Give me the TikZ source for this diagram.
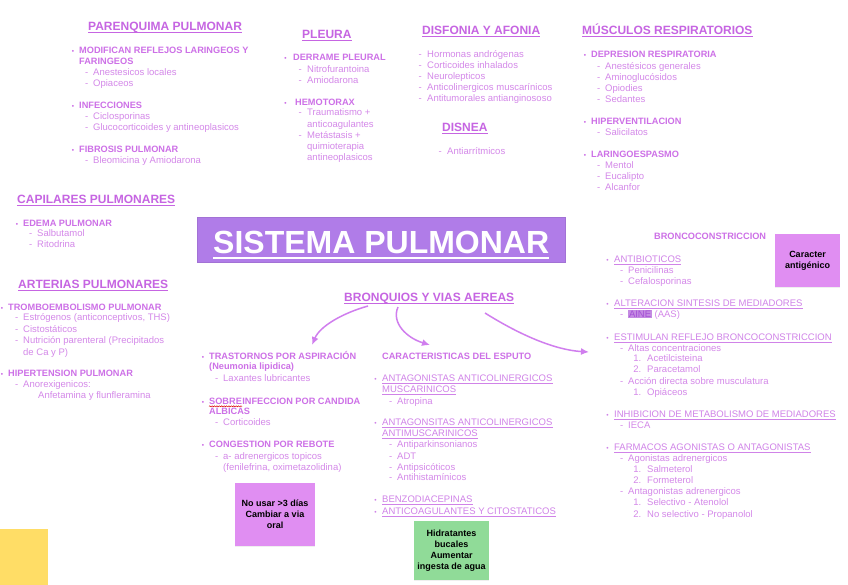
\documentclass[tikz,border=0pt]{standalone}
\usepackage{fontspec}
\usepackage{graphicx}
\setmainfont{Liberation Sans}
\usetikzlibrary{arrows.meta,shadows,decorations.pathmorphing}
\definecolor{hcol}{HTML}{C665E2}
\definecolor{bcol}{HTML}{CD70E7}
\definecolor{tcol}{HTML}{D488E9}
\definecolor{ucol}{HTML}{D083E8}
\definecolor{acol}{HTML}{D07EEE}
\definecolor{titlefill}{HTML}{B07CE8}
\definecolor{pinknote}{HTML}{E08EF2}
\definecolor{greennote}{HTML}{90DB98}
\definecolor{yellownote}{HTML}{FFDD66}
\definecolor{hlfill}{HTML}{C48BE2}
\definecolor{hltext}{HTML}{A552D6}
\newcommand\bu[2][5pt]{\llap{\scalebox{0.7}{\textbullet}\hspace{#1}}#2}
\newcommand\da[2][5pt]{\llap{-\hspace{#1}}#2}
\newcommand\nm[2]{\llap{#1\hspace{6pt}}#2}
\tikzset{
  bfont/.style={font=\fontsize{9.2}{11}\selectfont\bfseries, text=bcol},
  rfont/.style={font=\fontsize{9.5}{11}\selectfont, text=tcol},
  bt/.style={bfont, anchor=base west, inner sep=0pt, yshift=-3.3pt},
  rt/.style={rfont, anchor=base west, inner sep=0pt, yshift=-3.4pt},
  ut/.style={rfont, text=ucol, anchor=base west, inner sep=0pt, yshift=-3.4pt,
    append after command={([yshift=-1.7pt]\tikzlastnode.base west) edge[draw=ucol, line width=0.55pt] ([yshift=-1.7pt]\tikzlastnode.base east)}},
  hd/.style={font=\fontsize{12}{14}\selectfont\bfseries, text=hcol, anchor=base west, inner sep=0pt, yshift=-4.5pt,
    append after command={([yshift=-1.9pt]\tikzlastnode.base west) edge[draw=hcol, line width=0.8pt] ([yshift=-1.9pt]\tikzlastnode.base east)}},
  note/.style={inner sep=0pt, align=center, font=\fontsize{9}{11}\selectfont\bfseries, text=black,
    drop shadow={shadow xshift=0pt, shadow yshift=-1.2pt, opacity=0.12}},
  arr/.style={draw=acol, line width=1.5pt, -{Latex[length=8pt,width=7pt]}},
}
\begin{document}
\begin{tikzpicture}[x=1pt,y=-1pt]
\fill[white] (0,0) rectangle (848,584);
\useasboundingbox (0,0) rectangle (848,584);

% PARENQUIMA
\node[hd] (parh) at (88,26) {PARENQUIMA PULMONAR};
\node[bt] (par1) at (79,50) {\bu{MODIFICAN REFLEJOS LARINGEOS Y}};
\node[bt] (par1b) at (79,61) {FARINGEOS};
\node[rt] (par1c) at (93,72) {\da{Anestesicos locales}};
\node[rt] (par1d) at (93,83) {\da{Opiaceos}};
\node[bt] (par2) at (79,105) {\bu{INFECCIONES}};
\node[rt] (par2a) at (93,116) {\da{Ciclosporinas}};
\node[rt] (par2b) at (93,127) {\da{Glucocorticoides y antineoplasicos}};
\node[bt] (par3) at (79,149) {\bu{FIBROSIS PULMONAR}};
\node[rt] (par3a) at (93,160) {\da{Bleomicina y Amiodarona}};

% PLEURA
\node[hd] (pleh) at (302,34) {PLEURA};
\node[bt] (ple1) at (293,57) {\bu[6.5pt]{DERRAME PLEURAL}};
\node[rt] (ple1a) at (307,69) {\da[5.5pt]{Nitrofurantoina}};
\node[rt] (ple1b) at (307,80) {\da[5.5pt]{Amiodarona}};
\node[bt] (ple2) at (295,102) {\bu[8.5pt]{HEMOTORAX}};
\node[rt] (ple2a) at (307,112) {\da[5.5pt]{Traumatismo +}};
\node[rt] (ple2b) at (307,124) {anticoagulantes};
\node[rt] (ple2c) at (307,135) {\da[5.5pt]{Metástasis +}};
\node[rt] (ple2d) at (307,146) {quimioterapia};
\node[rt] (ple2e) at (307,157) {antineoplasicos};

% DISFONIA
\node[hd] (disfh) at (422,30) {DISFONIA Y AFONIA};
\node[rt] (disf1) at (427,54) {\da[5.5pt]{Hormonas andrógenas}};
\node[rt] (disf2) at (427,65) {\da[5.5pt]{Corticoides inhalados}};
\node[rt] (disf3) at (427,76) {\da[5.5pt]{Neurolepticos}};
\node[rt] (disf4) at (427,87) {\da[5.5pt]{Anticolinergicos muscarínicos}};
\node[rt] (disf5) at (427,98) {\da[5.5pt]{Antitumorales antianginososo}};
\node[hd] (disnh) at (442,127) {DISNEA};
\node[rt] (disn1) at (447,151) {\da[5.5pt]{Antiarrítmicos}};

% MUSCULOS
\node[hd] (mush) at (582,30) {MÚSCULOS RESPIRATORIOS};
\node[bt] (mus1) at (591,54) {\bu{DEPRESION RESPIRATORIA}};
\node[rt] (mus1a) at (605,66) {\da{Anestésicos generales}};
\node[rt] (mus1b) at (605,77) {\da{Aminoglucósidos}};
\node[rt] (mus1c) at (605,88) {\da{Opiodies}};
\node[rt] (mus1d) at (605,99) {\da{Sedantes}};
\node[bt] (mus2) at (591,121) {\bu{HIPERVENTILACION}};
\node[rt] (mus2a) at (605,132) {\da{Salicilatos}};
\node[bt] (mus3) at (591,154) {\bu{LARINGOESPASMO}};
\node[rt] (mus3a) at (605,165) {\da{Mentol}};
\node[rt] (mus3b) at (605,176) {\da{Eucalipto}};
\node[rt] (mus3c) at (605,187) {\da{Alcanfor}};

% CAPILARES
\node[hd] (caph) at (17,199) {CAPILARES PULMONARES};
\node[bt] (cap1) at (23,223) {\bu{EDEMA PULMONAR}};
\node[rt] (cap1a) at (37,233) {\da{Salbutamol}};
\node[rt] (cap1b) at (37,244) {\da{Ritodrina}};

% ARTERIAS
\node[hd] (arth) at (18,284) {ARTERIAS PULMONARES};
\node[bt] (art1) at (8,307) {\bu{TROMBOEMBOLISMO PULMONAR}};
\node[rt] (art1a) at (23,317) {\da{Estrógenos (anticonceptivos, THS)}};
\node[rt] (art1b) at (23,329) {\da{Cistostáticos}};
\node[rt] (art1c) at (23,340) {\da{Nutrición parenteral (Precipitados}};
\node[rt] (art1d) at (23,352) {de Ca y P)};
\node[bt] (art2) at (8,373) {\bu{HIPERTENSION PULMONAR}};
\node[rt] (art2a) at (23,384) {\da{Anorexigenicos:}};
\node[rt] (art2b) at (38,395) {Anfetamina y flunfleramina};

% TITLE
\node[fill=titlefill, draw=titlefill!92!black, line width=0.4pt, minimum width=368pt, minimum height=45pt, inner sep=0pt] (title) at (381,239.5) {};
\node[font=\fontsize{32}{36}\selectfont\bfseries, text=white, anchor=base west, inner sep=0pt] (titletext) at (213,253.5) {SISTEMA PULMONAR};
\draw[white, line width=2.4pt] ([yshift=-4.3pt]titletext.base west) -- ([yshift=-4.3pt]titletext.base east);

% BRONQUIOS
\node[hd] (bronh) at (344,297) {BRONQUIOS Y VIAS AEREAS};
\coordinate (a1s) at (368,306);
\coordinate (a1e) at (312,345);
\coordinate (a2s) at (398,307);
\coordinate (a2e) at (430,345);
\coordinate (a3s) at (485,313);
\coordinate (a3e) at (589,352);
\draw[arr] (a1s) .. controls (343,313) and (320,326) .. (a1e);
\draw[arr] (a2s) .. controls (391,323) and (407,338) .. (a2e);
\draw[arr] (a3s) .. controls (520,335) and (555,350) .. (a3e);

% Left-middle column
\node[bt] (asp) at (209,356) {\bu{TRASTORNOS POR ASPIRACIÓN}};
\node[bt] (asp2) at (209,366) {(Neumonia lipidica)};
\node[rt] (asp3) at (223,378) {\da{Laxantes lubricantes}};
\node[bt] (sobre) at (209,401) {\bu{SOBRE}};
\node[bfont, anchor=base west, inner sep=0pt] (sobre2) at (sobre.base east) {INFECCION POR CANDIDA};
\draw[red!85!black, line width=0.5pt, decorate, decoration={snake, amplitude=0.5pt, segment length=2.4pt}] ([yshift=-2pt]sobre.base west) -- ([yshift=-2pt]sobre.base east);
\node[bt] (sobre3) at (209,411) {ALBICAS};
\node[rt] (sobre4) at (223,422) {\da{Corticoides}};
\node[bt] (cong) at (209,444) {\bu{CONGESTION POR REBOTE}};
\node[rt] (cong2) at (223,456) {\da{a- adrenergicos topicos}};
\node[rt] (cong3) at (223,467) {(fenilefrina, oximetazolidina)};
\node[note, fill=pinknote, minimum width=80pt, minimum height=63pt] (note1) at (275,514.5) {No usar >3 días\\Cambiar a via\\oral};

% Middle column
\node[bt] (esp) at (382,356) {CARACTERISTICAS DEL ESPUTO};
\node[ut] (esp1) at (382,378) {\bu[5.5pt]{ANTAGONISTAS ANTICOLINERGICOS}};
\node[ut] (esp1b) at (382,389) {MUSCARINICOS};
\node[rt] (esp1c) at (397,401) {\da{Atropina}};
\node[ut] (esp2) at (382,422) {\bu[5.5pt]{ANTAGONSITAS ANTICOLINERGICOS}};
\node[ut] (esp2b) at (382,433) {ANTIMUSCARINICOS};
\node[rt] (esp2c) at (397,444) {\da{Antiparkinsonianos}};
\node[rt] (esp2d) at (397,456) {\da{ADT}};
\node[rt] (esp2e) at (397,467) {\da{Antipsicóticos}};
\node[rt] (esp2f) at (397,477) {\da{Antihistamínicos}};
\node[ut] (esp3) at (382,499) {\bu[5.5pt]{BENZODIACEPINAS}};
\node[ut] (esp4) at (382,511) {\bu[5.5pt]{ANTICOAGULANTES Y CITOSTATICOS}};
\node[note, fill=greennote, minimum width=75pt, minimum height=59pt] (note2) at (451.5,550.5) {Hidratantes\\bucales\\Aumentar\\ingesta de agua};

% Right column
\node[bt] (brc) at (654,236) {BRONCOCONSTRICCION};
\node[note, fill=pinknote, minimum width=65pt, minimum height=53pt] (note3) at (807.5,260.5) {Caracter\\antigénico};
\node[ut] (brc1) at (614,259) {\bu[5.5pt]{ANTIBIOTICOS}};
\node[rt] (brc1a) at (628,270) {\da{Penicilinas}};
\node[rt] (brc1b) at (628,281) {\da{Cefalosporinas}};
\node[ut] (brc2) at (614,303) {\bu[5.5pt]{ALTERACION SINTESIS DE MEDIADORES}};
\node[rt] (brc2a) at (628,314) {\da{{\setlength\fboxsep{0.8pt}\colorbox{hlfill}{\textcolor{hltext}{AINE}}} (AAS)}};
\node[ut] (brc3) at (614,337) {\bu[5.5pt]{ESTIMULAN REFLEJO BRONCOCONSTRICCION}};
\node[rt] (brc3a) at (628,348) {\da{Altas concentraciones}};
\node[rt] (brc3b) at (647,358) {\nm{1.}{Acetilcisteina}};
\node[rt] (brc3c) at (647,369) {\nm{2.}{Paracetamol}};
\node[rt] (brc3d) at (628,381) {\da{Acción directa sobre musculatura}};
\node[rt] (brc3e) at (647,392) {\nm{1.}{Opiáceos}};
\node[ut] (brc4) at (614,414) {\bu[5.5pt]{INHIBICION DE METABOLISMO DE MEDIADORES}};
\node[rt] (brc4a) at (628,425) {\da{IECA}};
\node[ut] (brc5) at (614,447) {\bu[5.5pt]{FARMACOS AGONISTAS O ANTAGONISTAS}};
\node[rt] (brc5a) at (628,458) {\da{Agonistas adrenergicos}};
\node[rt] (brc5b) at (647,469) {\nm{1.}{Salmeterol}};
\node[rt] (brc5c) at (647,480) {\nm{2.}{Formeterol}};
\node[rt] (brc5d) at (628,491) {\da{Antagonistas adrenergicos}};
\node[rt] (brc5e) at (647,502) {\nm{1.}{Selectivo - Atenolol}};
\node[rt] (brc5f) at (647,514) {\nm{2.}{No selectivo - Propanolol}};

% Yellow note
\node[note, fill=yellownote, minimum width=48pt, minimum height=56pt] (note4) at (24,557) {};
\end{tikzpicture}
\end{document}
